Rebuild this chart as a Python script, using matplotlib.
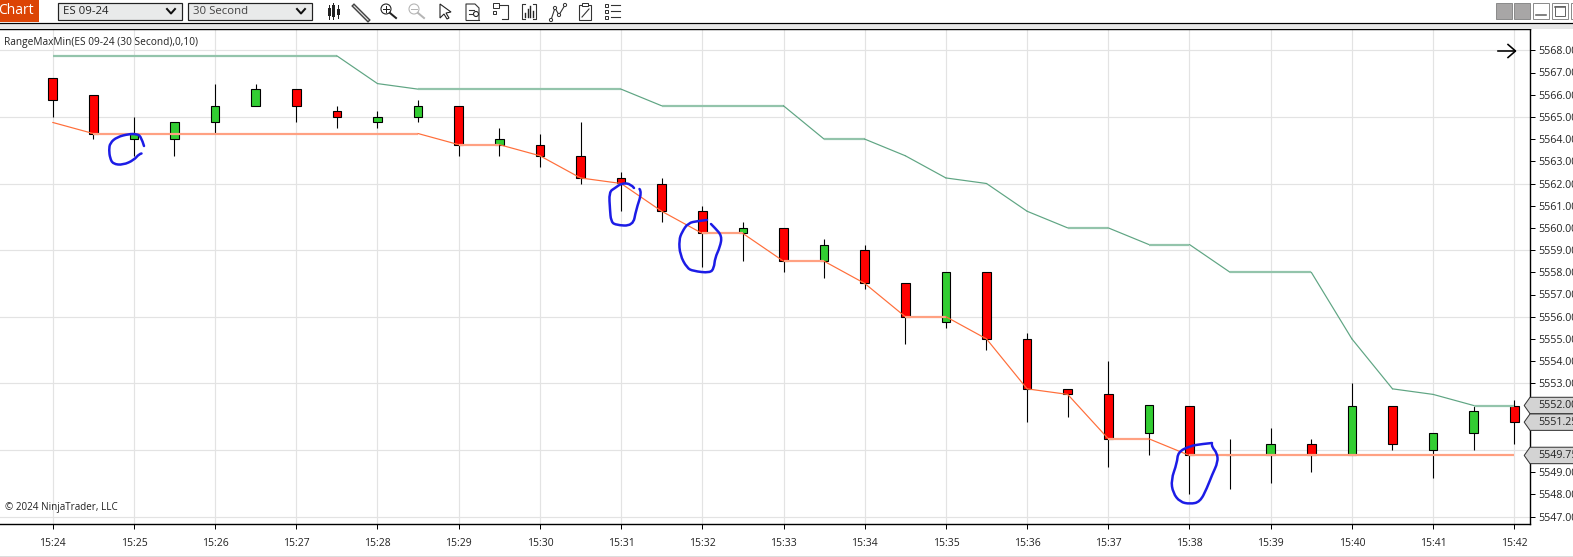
import matplotlib
matplotlib.use("Agg")
import matplotlib.pyplot as plt
from matplotlib.patches import Rectangle, Polygon, Circle, PathPatch
from matplotlib.path import Path
import numpy as np

plt.rcParams["font.family"] = ["Open Sans", "DejaVu Sans"]

# one bar every 30 seconds, 15:24 to 15:42
opens = [5566.75, 5566.0, 5564.0, 5564.0, 5564.75, 5565.5, 5566.25, 5565.25, 5564.75, 5565.0,
         5565.5, 5563.75, 5563.75, 5563.25, 5562.25, 5562.0, 5560.75, 5559.75, 5560.0, 5558.5,
         5559.0, 5557.5, 5555.75, 5558.0, 5555.0, 5552.75, 5552.5, 5550.75, 5552.0, 5549.75,
         5549.75, 5550.25, 5549.75, 5552.0, 5550.0, 5550.75, 5552.0]
highs = [5566.75, 5566.0, 5565.0, 5564.75, 5566.5, 5566.5, 5566.25, 5565.5, 5565.25, 5565.75,
         5565.5, 5564.5, 5564.25, 5564.75, 5562.5, 5562.25, 5561.0, 5560.25, 5560.0, 5559.5,
         5559.25, 5557.5, 5558.0, 5558.0, 5555.25, 5552.75, 5554.0, 5552.0, 5552.0, 5550.5,
         5551.0, 5550.5, 5553.0, 5552.0, 5550.75, 5552.0, 5552.25]
lows = [5565.0, 5564.0, 5563.25, 5563.25, 5564.25, 5565.5, 5564.75, 5564.5, 5564.5, 5564.75,
        5563.25, 5563.25, 5562.75, 5562.0, 5560.75, 5560.25, 5558.25, 5558.5, 5558.0, 5557.75,
        5557.25, 5554.75, 5555.5, 5554.5, 5551.25, 5551.5, 5549.25, 5549.75, 5548.0, 5548.25,
        5548.5, 5549.0, 5549.75, 5550.0, 5548.75, 5550.0, 5550.25]
closes = [5565.75, 5564.25, 5564.25, 5564.75, 5565.5, 5566.25, 5565.5, 5565.0, 5565.0, 5565.5,
          5563.75, 5564.0, 5563.25, 5562.25, 5562.0, 5560.75, 5559.75, 5560.0, 5558.5, 5559.25,
          5557.5, 5556.0, 5558.0, 5555.0, 5552.75, 5552.5, 5550.5, 5552.0, 5549.75, 5549.75,
          5550.25, 5549.75, 5552.0, 5550.25, 5550.75, 5551.75, 5551.25]
range_max = [5567.75, 5567.75, 5567.75, 5567.75, 5567.75, 5567.75, 5567.75, 5567.75, 5566.5, 5566.25,
             5566.25, 5566.25, 5566.25, 5566.25, 5566.25, 5565.5, 5565.5, 5565.5, 5565.5, 5564.0,
             5564.0, 5563.25, 5562.25, 5562.0, 5560.75, 5560.0, 5560.0, 5559.25, 5559.25, 5558.0,
             5558.0, 5558.0, 5555.0, 5552.75, 5552.5, 5552.0, 5552.0]
range_min = [5564.75, 5564.25, 5564.25, 5564.25, 5564.25, 5564.25, 5564.25, 5564.25, 5564.25, 5564.25,
             5563.75, 5563.75, 5563.25, 5562.25, 5562.0, 5560.75, 5559.75, 5559.75, 5558.5, 5558.5,
             5557.5, 5556.0, 5556.0, 5555.0, 5552.75, 5552.5, 5550.5, 5550.5, 5549.75, 5549.75,
             5549.75, 5549.75, 5549.75, 5549.75, 5549.75, 5549.75, 5549.75]
time_labels = ["15:24", "15:25", "15:26", "15:27", "15:28", "15:29", "15:30", "15:31", "15:32", "15:33",
               "15:34", "15:35", "15:36", "15:37", "15:38", "15:39", "15:40", "15:41", "15:42"]
price_ticks = list(range(5547, 5569))
hidden_ticks = [5550, 5551, 5552]  # covered by the price tags in the reference
grid_prices = [5547, 5550, 5553, 5556, 5559, 5562, 5565, 5568]
price_tags = [5552.0, 5551.25, 5549.75]

# pen scribbles on the screenshot, in image pixels
scribbles = [
    [(144, 146), (141, 136), (136, 134), (129, 134), (117, 137), (110, 143), (109, 150), (110, 158),
     (113, 164), (123, 165), (134, 160), (139, 154), (144, 153)],
    [(634, 188), (631, 184), (622, 183), (615, 188), (609, 192), (610, 210), (611, 221), (615, 225),
     (633, 226), (636, 210), (642, 192), (637, 186)],
    [(707, 220), (698, 221), (688, 223), (682, 232), (679, 240), (680, 255), (687, 268), (693, 271),
     (710, 273), (714, 268), (715, 258), (720, 247), (722, 236), (715, 228), (707, 220)],
    [(1212, 443), (1202, 444), (1190, 446), (1178, 452), (1177, 463), (1171, 480), (1173, 493), (1180, 502),
     (1190, 504), (1200, 502), (1207, 488), (1212, 475), (1218, 462), (1217, 453), (1212, 447), (1212, 443)],
]

W, H = 1573, 557
PX = 0.72  # one image pixel in points at dpi 100
fig = plt.figure(figsize=(W / 100, H / 100), dpi=100, facecolor="white")

# chart area, axis limits chosen so the bars land where the screenshot has them
left, right, top, bottom = 0, 1530, 29, 524
ax = fig.add_axes([left / W, 1 - bottom / H, (right - left) / W, (bottom - top) / H])
bar_step = 40.6
ax.set_xlim((left - 52.7) / bar_step, (right - 52.7) / bar_step)
ax.set_ylim(5568 - (bottom - 50.3) / 22.2, 5568 - (top - 50.3) / 22.2)

x = np.arange(len(opens))
for p in grid_prices:
    ax.axhline(p, color="#e3e3e3", lw=PX * 1.2, zorder=1)
for t in x[::2]:
    ax.axvline(t, color="#e3e3e3", lw=PX * 1.2, zorder=1)

o, h, l, c = map(np.array, (opens, highs, lows, closes))
ax.vlines(x, l, h, color="black", lw=PX * 1.1, zorder=2)
colors = ["#32cd32" if cl > op else "#ff0000" for op, cl in zip(opens, closes)]
ax.bar(x, c - o, bottom=o, width=8.6 / bar_step, color=colors, edgecolor="black", linewidth=PX * 1.1, zorder=3)


def draw_band(values, steep, flat):
    # flat runs of the line render paler and wider in the reference
    for i in range(len(values) - 1):
        pair = values[i:i + 2]
        if pair[0] == pair[1]:
            ax.plot(x[i:i + 2], pair, color=flat, lw=PX * 2.2, zorder=4, solid_capstyle="butt")
        else:
            ax.plot(x[i:i + 2], pair, color=steep, lw=PX * 1.2, zorder=4, solid_capstyle="round")


draw_band(range_max, "#5fa583", "#93c4ab")
draw_band(range_min, "#ff6e3a", "#ffa182")

ax.yaxis.tick_right()
ax.set_yticks(price_ticks)
ax.set_yticklabels(["" if p in hidden_ticks else f"{p:.2f}" for p in price_ticks])
ax.set_xticks(x[::2])
ax.set_xticklabels(time_labels)
ax.tick_params(axis="y", length=4.5 * PX, width=PX, pad=3.0, labelsize=7.7, labelcolor="#222222")
ax.tick_params(axis="x", length=4.5 * PX, width=PX, pad=6.5, labelsize=7.5, labelcolor="#222222")
ax.spines["left"].set_visible(False)
for s in ("top", "right", "bottom"):
    ax.spines[s].set_linewidth(PX * 1.4)

ax.text(4 / right, 1 - (42 - top) / (bottom - top), "RangeMaxMin(ES 09-24 (30 Second),0,10)",
        transform=ax.transAxes, fontsize=7.3, va="center", color="#222222")
ax.text(5 / right, 1 - (507.5 - top) / (bottom - top), "\u00a9 2024 NinjaTrader, LLC",
        transform=ax.transAxes, fontsize=7.1, va="center", color="#222222")

# current price tags on the axis
tag_tr = ax.get_yaxis_transform()
for p in price_tags:
    half = 0.37
    pts = [(0.9962, p), (1.0, p + half), (1.04, p + half), (1.04, p - half), (1.0, p - half)]
    ax.add_patch(Polygon(pts, closed=True, transform=tag_tr, clip_on=False, facecolor="#d3d3d3",
                         edgecolor="#333333", linewidth=PX, zorder=6))
    ax.text(1 + 8 / right, p, f"{p:.2f}", transform=tag_tr, fontsize=7.7, va="center", color="#222222",
            clip_on=False, zorder=7)

# overlay in image pixels for the window chrome and pen marks
ui = fig.add_axes([0, 0, 1, 1], facecolor="none")
ui.set_xlim(0, W)
ui.set_ylim(H, 0)
ui.axis("off")

for pts in scribbles:
    # quadratic curve through the midpoints so the pen stroke reads smooth
    pts = np.array(pts, dtype=float)
    mids = (pts[:-1] + pts[1:]) / 2
    verts, codes = [pts[0]], [Path.MOVETO]
    for ctrl, end in zip(pts[1:-1], mids[1:]):
        verts += [ctrl, end]
        codes += [Path.CURVE3, Path.CURVE3]
    ui.add_patch(PathPatch(Path(verts, codes), facecolor="none", edgecolor="#1c1ce6", lw=PX * 2.5,
                           capstyle="round", joinstyle="round"))

# top bar
ui.add_patch(Rectangle((0, 23), W, 6, facecolor="#e6e6e6", edgecolor="none"))
ui.plot([0, W], [22.5, 22.5], color="black", lw=PX * 1.2)
ui.add_patch(Rectangle((0, 0), 39, 22, facecolor="#dc4405", edgecolor="none"))
ui.text(-2, 11, "Chart", color="white", fontsize=10, va="center")
for bx, label, tcol in [(58, "ES 09-24", "#222222"), (188, "30 Second", "#444444")]:
    ui.add_patch(Rectangle((bx, 2.5), 124, 17, facecolor="#e9eaea", edgecolor="#222222", lw=PX * 1.2))
    ui.text(bx + 5, 11, label, fontsize=8.2, va="center", color=tcol)
    ui.plot([bx + 109, bx + 113, bx + 117], [9, 13.5, 9], color="#111111", lw=PX * 2)

# toolbar icons
ik = dict(color="#333333", lw=PX * 1.1)
for dx, y0, y1, y2, y3 in [(329, 5, 8, 16, 19), (333, 3, 5, 17, 19), (338, 5, 9, 15, 18)]:
    ui.plot([dx, dx], [y0, y3], color="#222222", lw=PX)
    ui.add_patch(Rectangle((dx - 1.5, y1), 3, y2 - y1, facecolor="#222222", edgecolor="none"))
ui.plot([354, 368], [6, 20], color="#444444", lw=PX * 4)
ui.plot([354, 368], [6, 20], color="#dddddd", lw=PX * 1.2)
for cx, col in [(386, "#222222"), (414, "#b5b5b5")]:
    ui.add_patch(Circle((cx, 9), 5, facecolor="none", edgecolor=col, lw=PX * 1.1))
    ui.plot([cx + 4, cx + 10], [13, 18], color=col, lw=PX * 2)
    ui.plot([cx - 3, cx + 3], [9, 9], color=col, lw=PX)
ui.plot([386, 386], [6, 12], color="#222222", lw=PX)
ui.add_patch(Polygon([(440, 4), (440, 18), (444, 14), (447, 19), (449, 18), (446, 13), (451, 12)], closed=True,
                     facecolor="white", edgecolor="#222222", lw=PX * 1.1))
ui.plot([466, 466, 475, 479, 479], [20, 4, 4, 8, 20], **ik)
ui.plot([466, 479], [20, 20], **ik)
ui.plot([469, 474], [10, 10], **ik)
ui.plot([469, 473], [14, 14], **ik)
ui.add_patch(Circle((476, 14), 2.5, facecolor="white", edgecolor="#222222", lw=PX * 1.1))
ui.add_patch(Rectangle((493, 3), 6, 5, facecolor="none", edgecolor="#333333", lw=PX))
ui.add_patch(Rectangle((493, 11), 3, 3, facecolor="none", edgecolor="#333333", lw=PX))
ui.plot([499, 508, 508, 502], [5, 5, 19, 19], **ik)
ui.plot([525, 522, 522, 525], [4, 4, 19, 19], **ik)
ui.plot([533, 536, 536, 533], [4, 4, 19, 19], **ik)
for bxx, byy in [(525, 13), (527.5, 9), (530, 6), (532.5, 11)]:
    ui.plot([bxx, bxx], [byy, 17], color="#222222", lw=PX * 1.4)
ui.plot([551, 555, 559, 565], [20, 8, 15, 5], **ik)
for cx, cy in [(551, 20), (555, 8), (559, 15), (565, 5)]:
    ui.add_patch(Circle((cx, cy), 1.6, facecolor="white", edgecolor="#333333", lw=PX, zorder=5))
ui.add_patch(Rectangle((579, 5), 12, 15, facecolor="none", edgecolor="#333333", lw=PX * 1.1))
ui.add_patch(Rectangle((582, 3), 6, 3, facecolor="white", edgecolor="#333333", lw=PX))
ui.plot([582, 589], [17, 9], **ik)
for ry in (5, 11, 17):
    ui.add_patch(Rectangle((605, ry - 1.5), 3, 3, facecolor="none", edgecolor="#333333", lw=PX))
    ui.plot([611, 620], [ry, ry], **ik)

# window buttons
for bx in (1496, 1514):
    ui.add_patch(Rectangle((bx, 3), 15.5, 15.5, facecolor="#a8a6a6", edgecolor="#8c8c8c", lw=PX))
for bx in (1533, 1552, 1571):
    ui.add_patch(Rectangle((bx, 3), 15.5, 15.5, facecolor="white", edgecolor="#8c8c8c", lw=PX))
ui.plot([1536, 1546], [14.5, 14.5], color="#666666", lw=PX * 1.6)
ui.add_patch(Rectangle((1555, 6), 9.5, 9.5, facecolor="none", edgecolor="#666666", lw=PX))
ui.plot([1555, 1564.5], [7, 7], color="#666666", lw=PX * 1.6)

# scroll arrow at top right of the chart
ui.plot([1498, 1515], [51, 51], color="black", lw=PX * 1.6)
ui.plot([1508, 1515.5, 1508], [44.5, 51, 57.5], color="black", lw=PX * 1.6)

# bottom edge of the window
ui.plot([0, W], [556, 556], color="#dddddd", lw=PX)

fig.savefig("out.png", dpi=100)
plt.close(fig)
